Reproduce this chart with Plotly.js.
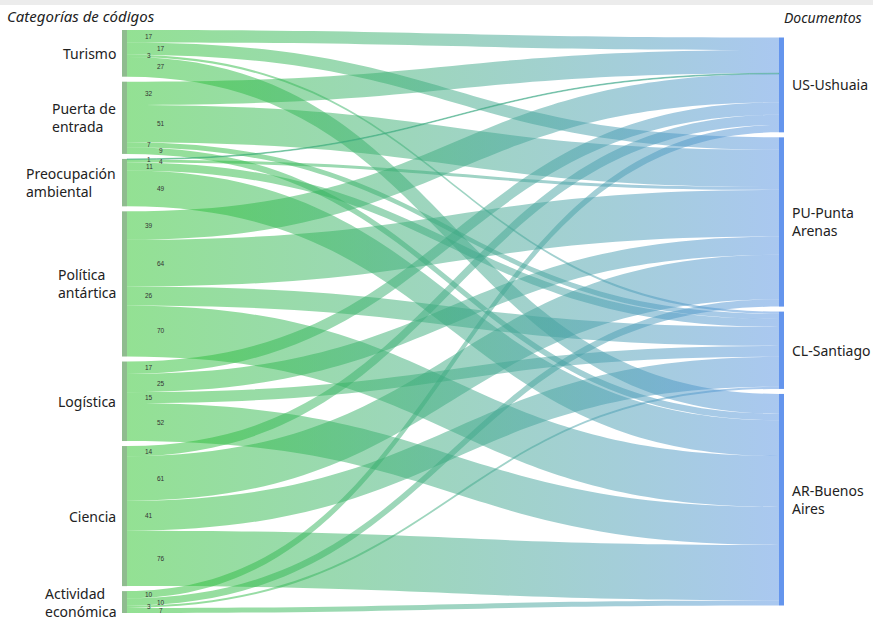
<!DOCTYPE html>
<html><head><meta charset="utf-8">
<script src="https://cdn.plot.ly/plotly-3.0.1.min.js"></script>
<style>html,body{margin:0;padding:0;background:#fff}#chart{width:873px;height:628px}</style>
</head><body><div id="chart"></div>
<script>
// ---- data ----
const categories = ["Turismo","Puerta de<br>entrada","Preocupación<br>ambiental","Política<br>antártica","Logística","Ciencia","Actividad<br>económica"];
const documents = ["US-Ushuaia","PU-Punta<br>Arenas","CL-Santiago","AR-Buenos<br>Aires"];
const toUS = [17,32,1,39,17,14,10];
const toPU = [17,51,4,64,25,61,10];
const toCL = [3,7,11,26,15,41,3];
const toAR = [27,9,49,70,52,76,7];
const leftTitle = "Categorías de códigos";
const rightTitle = "Documentos";

// ---- layout constants ----
const W = 873, H = 628;
const domX = [122/W, 784/W], domY = [1-613/H, 1-30/H];
const thick = 5, pad = 5;
const FONT = "Noto Sans, Open Sans, sans-serif";

const series = [toUS,toPU,toCL,toAR];
const src=[], tgt=[], val=[];
categories.forEach((c,i)=>{ series.forEach((s,j)=>{ src.push(i); tgt.push(categories.length+j); val.push(s[i]); }); });

const catTot = categories.map((c,i)=>series.reduce((a,s)=>a+s[i],0));
const docTot = series.map(s=>s.reduce((a,b)=>a+b,0));
const pw = (domX[1]-domX[0])*W, ph = (domY[1]-domY[0])*H;
const sumL = catTot.reduce((a,b)=>a+b,0), sumR = docTot.reduce((a,b)=>a+b,0);
const ky = Math.min((ph-(catTot.length-1)*pad)/sumL, (ph-(docTot.length-1)*pad)/sumR);
function centers(tots){
  const total = tots.reduce((a,b)=>a+b,0)*ky + (tots.length-1)*pad;
  let y=(ph-total)/2;
  return tots.map(t=>{const h=t*ky; const c=y+h/2; y+=h+pad; return c/ph;});
}
const nodeY = centers(catTot).concat(centers(docTot));
const nodeX = categories.map(()=> (thick/2)/pw).concat(documents.map(()=>1-(thick/2)/pw));
const allLabels = categories.concat(documents);
const nodeColors = categories.map(()=>'rgb(143,188,143)').concat(documents.map(()=>'rgb(100,149,237)'));

const data = [{
  type:'sankey', orientation:'h', arrangement:'fixed',
  domain:{x:domX, y:domY},
  node:{ label: allLabels.map(l=>l.replace('<br>',' ')), color: nodeColors, thickness: thick, pad: pad,
         line:{width:0}, x: nodeX, y: nodeY },
  link:{ source: src, target: tgt, value: val, color: val.map(()=> 'rgba(60,170,130,0.5)') },
  textfont:{color:'rgba(0,0,0,0)', size:1}
}];

const layout = {
  width: W, height: H, margin:{l:0,r:0,t:0,b:0}, paper_bgcolor:'#fff',
  font:{family:FONT},
  shapes:[{type:'rect', xref:'paper', yref:'paper', x0:0, x1:1, y0:1-5/H, y1:1, fillcolor:'rgb(236,236,236)', line:{width:0}, layer:'below'}]
};

const gd = document.getElementById('chart');
Plotly.newPlot(gd, data, layout, {displayModeBar:false}).then(()=>{
  const fl = gd._fullLayout;
  const sr = gd.querySelector('.main-svg').getBoundingClientRect();
  const px = x => (x - sr.left)/fl.width;
  const py = y => 1 - (y - sr.top)/fl.height;
  const anns = [];
  anns.push({xref:'paper',yref:'paper',x:5/W,y:1-16/H,xanchor:'left',yanchor:'middle',showarrow:false,
             text:'<i>'+leftTitle+'</i>',font:{family:FONT,size:15,color:'#222'}});
  anns.push({xref:'paper',yref:'paper',x:782/W,y:1-18/H,xanchor:'left',yanchor:'middle',showarrow:false,
             text:'<i>'+rightTitle+'</i>',font:{family:FONT,size:14,color:'#222'}});
  gd.querySelectorAll('.sankey-node').forEach(el=>{
    const d = el.__data__; if(!d || !d.node) return;
    const idx = d.node.pointNumber;
    const r = el.querySelector('.node-rect').getBoundingClientRect();
    const isLeft = idx < categories.length;
    anns.push({xref:'paper',yref:'paper', x: isLeft? px(r.left-4): px(r.right+6), y: py((r.top+r.bottom)/2),
      xanchor: isLeft?'right':'left', yanchor:'middle', align:'left', showarrow:false,
      text: allLabels[idx], font:{family:FONT,size:14,color:'#222'}});
  });
  gd.querySelectorAll('.sankey-link').forEach(el=>{
    const d = el.__data__; if(!d || !d.link) return;
    const L = d.link; const m = el.getScreenCTM();
    const j = L.target.pointNumber - categories.length;
    const x = m.e + L.source.x1 + 22 + 12*(j%2), y = m.f + L.y0;
    anns.push({xref:'paper',yref:'paper', x: px(x), y: py(y), xanchor:'center', yanchor:'middle', showarrow:false,
      text: String(L.value), font:{family:'Arial, sans-serif', size:6.5, color:'#333'}});
  });
  return Plotly.relayout(gd,{annotations: anns});
}).then(()=>{
  const NS='http://www.w3.org/2000/svg';
  const svg = gd.querySelector('.main-svg');
  const defs = document.createElementNS(NS,'defs');
  const lg = document.createElementNS(NS,'linearGradient');
  lg.setAttribute('id','linkGrad'); lg.setAttribute('x1','0'); lg.setAttribute('y1','0'); lg.setAttribute('x2','1'); lg.setAttribute('y2','0');
  [['0%','rgb(40,195,40)'],['100%','rgb(85,145,225)']].forEach(([o,c])=>{
    const s = document.createElementNS(NS,'stop'); s.setAttribute('offset',o); s.setAttribute('stop-color',c); lg.appendChild(s);
  });
  defs.appendChild(lg); svg.insertBefore(defs, svg.firstChild);
  gd.querySelectorAll('.sankey-link').forEach(p=>{ p.style.fill='url(#linkGrad)'; p.style.fillOpacity='0.5'; });
});
</script></body></html>
